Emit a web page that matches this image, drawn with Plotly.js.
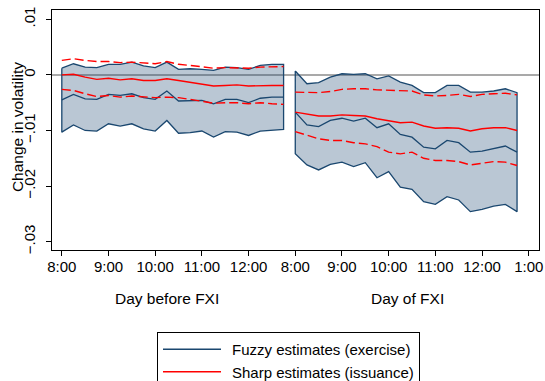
<!DOCTYPE html>
<html>
<head>
<meta charset="utf-8">
<script src="https://cdn.plot.ly/plotly-3.0.1.min.js"></script>
<style>
  html, body { margin: 0; padding: 0; background: #fff; }
  #chart { width: 545px; height: 381px; }
</style>
</head>
<body>
<div id="chart"></div>
<script>
// 15-minute slots on each trading day
const slotsBefore = ['8:00','8:15','8:30','8:45','9:00','9:15','9:30','9:45','10:00','10:15',
                     '10:30','10:45','11:00','11:15','11:30','11:45','12:00','12:15','12:30','12:45'];
const slotsOf     = ['8:00','8:15','8:30','8:45','9:00','9:15','9:30','9:45','10:00','10:15',
                     '10:30','10:45','11:00','11:15','11:30','11:45','12:00','12:15','12:30','12:45'];

// axis tick labels (day before, then day of FXI)
const tickLabels = ['8:00','9:00','10:00','11:00','12:00','8:00','9:00','10:00','11:00','12:00','1:00'];
const yTickVals  = [0.01, 0, -0.01, -0.02, -0.03];
const yTickText  = ['.01', '0', '\u2212.01', '\u2212.02', '\u2212.03'];

// Fuzzy estimates (exercise): point estimate and confidence band
const fuzzyBefore   = [-0.0045,-0.0035,-0.0043,-0.0044,-0.0035,-0.0037,-0.0034,-0.0041,-0.0044,-0.0029,
                       -0.0047,-0.0046,-0.0046,-0.0052,-0.0044,-0.0044,-0.0050,-0.0042,-0.0040,-0.0040];
const fuzzyBeforeHi = [0.0012,0.0020,0.0014,0.0013,0.0019,0.0019,0.0023,0.0016,0.0013,0.0023,
                       0.0010,0.0011,0.0010,0.0008,0.0014,0.0013,0.0010,0.0017,0.0019,0.0019];
const fuzzyBeforeLo = [-0.0103,-0.0090,-0.0100,-0.0101,-0.0088,-0.0092,-0.0088,-0.0097,-0.0101,-0.0082,
                       -0.0105,-0.0104,-0.0101,-0.0112,-0.0102,-0.0103,-0.0109,-0.0101,-0.0100,-0.0098];
const fuzzyOf       = [-0.0067,-0.0090,-0.0093,-0.0082,-0.0078,-0.0083,-0.0078,-0.0095,-0.0088,-0.0107,
                       -0.0112,-0.0130,-0.0133,-0.0118,-0.0122,-0.0139,-0.0137,-0.0133,-0.0128,-0.0139];
const fuzzyOfHi     = [0.0007,-0.0016,-0.0014,-0.0004,0.0002,0.0001,0.0002,-0.0007,-0.0002,-0.0013,
                       -0.0019,-0.0032,-0.0032,-0.0019,-0.0019,-0.0031,-0.0031,-0.0029,-0.0025,-0.0032];
const fuzzyOfLo     = [-0.0142,-0.0162,-0.0171,-0.0161,-0.0157,-0.0165,-0.0158,-0.0185,-0.0174,-0.0202,
                       -0.0206,-0.0228,-0.0233,-0.0219,-0.0225,-0.0246,-0.0242,-0.0236,-0.0233,-0.0246];

// Sharp estimates (issuance): point estimate and confidence bounds
const sharpBefore   = [0.0000,0.0001,-0.0004,-0.0008,-0.0006,-0.0009,-0.0007,-0.0010,-0.0010,-0.0007,
                       -0.0010,-0.0013,-0.0016,-0.0020,-0.0019,-0.0018,-0.0020,-0.0019,-0.0019,-0.0019];
const sharpBeforeHi = [0.0026,0.0029,0.0026,0.0024,0.0024,0.0022,0.0023,0.0021,0.0020,0.0024,
                       0.0019,0.0017,0.0015,0.0012,0.0013,0.0013,0.0012,0.0014,0.0014,0.0015];
const sharpBeforeLo = [-0.0026,-0.0028,-0.0034,-0.0039,-0.0037,-0.0040,-0.0038,-0.0040,-0.0041,-0.0040,
                       -0.0041,-0.0044,-0.0047,-0.0051,-0.0050,-0.0050,-0.0052,-0.0050,-0.0052,-0.0053];
const sharpOf       = [-0.0067,-0.0070,-0.0074,-0.0074,-0.0072,-0.0073,-0.0074,-0.0079,-0.0083,-0.0086,
                       -0.0085,-0.0092,-0.0096,-0.0095,-0.0096,-0.0101,-0.0097,-0.0095,-0.0095,-0.0100];
const sharpOfHi     = [-0.0031,-0.0031,-0.0032,-0.0030,-0.0026,-0.0025,-0.0025,-0.0027,-0.0028,-0.0029,
                       -0.0029,-0.0036,-0.0038,-0.0037,-0.0035,-0.0039,-0.0035,-0.0034,-0.0033,-0.0036];
const sharpOfLo     = [-0.0102,-0.0108,-0.0115,-0.0118,-0.0118,-0.0122,-0.0124,-0.0129,-0.0139,-0.0142,
                       -0.0139,-0.0150,-0.0154,-0.0154,-0.0156,-0.0162,-0.0159,-0.0156,-0.0157,-0.0163];

const NAVY = '#1a476f';
const RED = '#ff0000';
const FONT = '"Liberation Sans", Arial, Helvetica, sans-serif';

// hours after 8:00; the day of FXI starts one slot-hour after the day before's noon tick
function toPos(label, dayOffset) {
  const [h, m] = label.split(':').map(Number);
  return h + m / 60 - 8 + dayOffset;
}
const xBefore = slotsBefore.map(s => toPos(s, 0));
const xOf = slotsOf.map(s => toPos(s, 5));

// closed outline of a confidence band: upper edge, lower edge reversed, back to start
function bandPath(x, hi, lo) {
  const xs = x.concat(x.slice().reverse(), [x[0]]);
  const ys = hi.concat(lo.slice().reverse(), [hi[0]]);
  return { xs, ys };
}
const bandA = bandPath(xBefore, fuzzyBeforeHi, fuzzyBeforeLo);
const bandB = bandPath(xOf, fuzzyOfHi, fuzzyOfLo);

const traces = [
  {
    x: bandA.xs.concat([null], bandB.xs),
    y: bandA.ys.concat([null], bandB.ys),
    mode: 'lines', fill: 'toself',
    fillcolor: 'rgba(26,71,111,0.30)',
    line: { color: NAVY, width: 1.3 },
    showlegend: false, hoverinfo: 'skip'
  },
  {
    name: 'Fuzzy estimates (exercise)',
    x: xBefore.concat([null], xOf),
    y: fuzzyBefore.concat([null], fuzzyOf),
    mode: 'lines', line: { color: NAVY, width: 1.3 }
  },
  {
    name: 'Sharp estimates (issuance)',
    x: xBefore.concat([null], xOf),
    y: sharpBefore.concat([null], sharpOf),
    mode: 'lines', line: { color: RED, width: 1.4 }
  },
  {
    x: xBefore.concat([null], xOf),
    y: sharpBeforeHi.concat([null], sharpOfHi),
    mode: 'lines', line: { color: RED, width: 1.4, dash: '9px,4px' },
    showlegend: false
  },
  {
    x: xBefore.concat([null], xOf),
    y: sharpBeforeLo.concat([null], sharpOfLo),
    mode: 'lines', line: { color: RED, width: 1.4, dash: '9px,4px' },
    showlegend: false
  }
];

const layout = {
  width: 545, height: 381,
  margin: { l: 52, r: 6, t: 10, b: 131, autoexpand: false },
  paper_bgcolor: '#fff', plot_bgcolor: '#fff',
  font: { family: FONT, size: 15, color: '#000' },
  showlegend: true,
  xaxis: {
    range: [-0.21, 10.22],
    tickvals: tickLabels.map((_, i) => i),
    ticktext: tickLabels,
    ticks: 'outside', ticklen: 5, tickwidth: 1, tickcolor: '#000',
    ticklabelstandoff: -2,
    showline: true, mirror: true, linecolor: '#000', linewidth: 1,
    showgrid: false, zeroline: false,
    tickfont: { family: FONT, size: 15, color: '#000' }
  },
  yaxis: {
    range: [-0.0315, 0.01167],
    tickvals: yTickVals, ticktext: yTickText, tickangle: -90,
    ticks: 'outside', ticklen: 5, tickwidth: 1, tickcolor: '#000',
    ticklabelstandoff: 5,
    showline: true, mirror: true, linecolor: '#000', linewidth: 1,
    showgrid: false,
    zeroline: true, zerolinecolor: '#a9a9a9', zerolinewidth: 1.6,
    tickfont: { family: FONT, size: 15, color: '#000' }
  },
  legend: {
    xref: 'container', yref: 'container',
    x: 157 / 545, y: 1 - 332 / 381, xanchor: 'left', yanchor: 'top',
    bordercolor: '#000', borderwidth: 1, bgcolor: '#fff',
    font: { family: FONT, size: 15, color: '#000' },
    itemwidth: 64, tracegroupgap: 0
  },
  annotations: [
    { text: 'Change in volatility', textangle: -90, xref: 'paper', yref: 'paper',
      x: -0.0719, y: 0.512, xanchor: 'center', yanchor: 'middle', showarrow: false,
      font: { family: FONT, size: 15.5, color: '#000' } },
    { text: 'Day before FXI', xref: 'paper', yref: 'paper', x: 0.237, y: -0.204,
      xanchor: 'center', yanchor: 'middle', showarrow: false, font: { family: FONT, size: 15.5, color: '#000' } },
    { text: 'Day of FXI', xref: 'paper', yref: 'paper', x: 0.729, y: -0.204,
      xanchor: 'center', yanchor: 'middle', showarrow: false, font: { family: FONT, size: 15.5, color: '#000' } }
  ]
};

Plotly.newPlot('chart', traces, layout, { displayModeBar: false, staticPlot: true }).then(gd => {
  // longer legend keys
  gd.querySelectorAll('.legend path.js-line').forEach(p => p.setAttribute('d', 'M5,0h58'));
});
</script>
</body>
</html>
